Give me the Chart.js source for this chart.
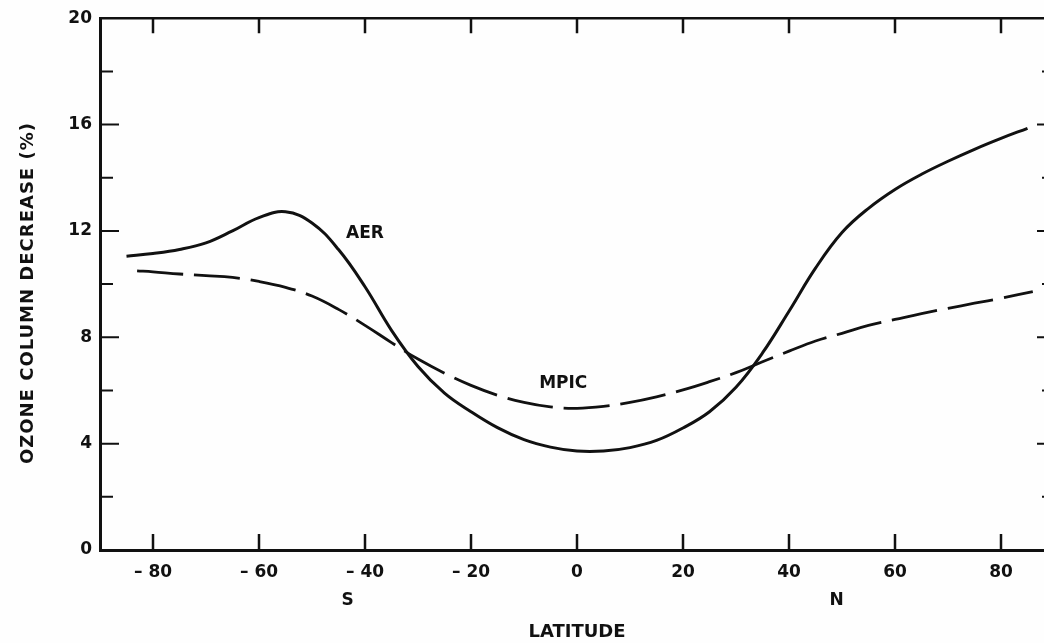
<!DOCTYPE html>
<html>
<head>
<meta charset="utf-8">
<script src="https://cdn.jsdelivr.net/npm/chart.js@4.4.1/dist/chart.umd.min.js"></script>
<style>
  html, body { margin: 0; padding: 0; background: #fefefe; overflow: hidden; }
  #wrap { width: 1044px; height: 643px; overflow: hidden; position: relative; }
  canvas { position: absolute; left: 0; top: 0; }
</style>
</head>
<body>
<div id="wrap"><canvas id="c" width="1060" height="643"></canvas></div>
<script>
// ---- data ----
const aerLat = [-85,-80,-75,-70,-65,-60,-55,-50,-45,-40,-35,-30,-25,-20,-15,-10,-5,0,5,10,15,20,25,30,35,40,45,50,55,60,65,70,75,80,85];
const aerVal = [11.05,11.15,11.3,11.55,12.0,12.5,12.72,12.3,11.3,9.9,8.26,6.9,5.9,5.2,4.6,4.15,3.87,3.72,3.72,3.85,4.12,4.59,5.2,6.12,7.41,8.98,10.6,11.94,12.85,13.56,14.13,14.62,15.07,15.48,15.86];

const mpicLat = [-83,-80,-75,-70,-65,-60,-55,-50,-45,-40,-35,-30,-25,-20,-15,-10,-5,0,5,10,15,20,25,30,35,40,45,50,55,60,65,70,75,80,86];
const mpicVal = [10.5,10.46,10.38,10.32,10.25,10.1,9.88,9.55,9.05,8.45,7.8,7.18,6.65,6.19,5.82,5.55,5.38,5.33,5.4,5.55,5.76,6.02,6.33,6.67,7.08,7.48,7.86,8.15,8.45,8.67,8.89,9.09,9.28,9.47,9.72];

const xTickValues = [-80,-60,-40,-20,0,20,40,60,80];
const xTickLabels = ['– 80','– 60','– 40','– 20','0','20','40','60','80'];
const yTickValues = [0,2,4,6,8,10,12,14,16,18,20];
const yTickLabels = ['0','','4','','8','','12','','16','','20'];
const seriesNames = ['AER','MPIC'];
const yTitle = 'OZONE COLUMN DECREASE (%)';
const xTitle = 'LATITUDE';
const hemiLabels = ['S','N'];

// ---- drawing ----
const INK = '#111111';
const FONT = 'DejaVu Sans';

const framePlugin = {
  id: 'frame',
  afterDatasetsDraw(chart, args, opts) {
    const ctx = chart.ctx;
    const xs = chart.scales.x, ys = chart.scales.y;
    const a = chart.chartArea;
    ctx.save();
    ctx.strokeStyle = INK;
    ctx.lineCap = 'butt';
    // frame
    ctx.lineWidth = 3;
    ctx.beginPath();
    ctx.moveTo(a.left + 0.5, a.top); ctx.lineTo(a.left + 0.5, a.bottom + 1.5);
    ctx.moveTo(a.left - 1, a.bottom + 0.5); ctx.lineTo(a.right, a.bottom + 0.5);
    ctx.stroke();
    ctx.lineWidth = 2.5;
    ctx.beginPath();
    ctx.moveTo(a.left - 1, a.top); ctx.lineTo(a.right, a.top);
    ctx.moveTo(a.right, a.top); ctx.lineTo(a.right, a.bottom);
    ctx.stroke();
    // x ticks (inside, bottom and top)
    ctx.lineWidth = 2.5;
    ctx.beginPath();
    xTickValues.forEach(v => {
      const px = xs.getPixelForValue(v);
      ctx.moveTo(px, a.bottom); ctx.lineTo(px, a.bottom - 16);
      ctx.moveTo(px, a.top); ctx.lineTo(px, a.top + 15);
    });
    ctx.stroke();
    // y ticks (inside, left and right)
    ctx.lineWidth = 2;
    ctx.beginPath();
    yTickValues.forEach((v, i) => {
      if (v === 0 || v === 20) return;
      const py = ys.getPixelForValue(v);
      const major = yTickLabels[i] !== '';
      ctx.moveTo(a.left, py); ctx.lineTo(a.left + (major ? 19 : 13), py);
      ctx.moveTo(a.right, py); ctx.lineTo(a.right - (major ? 17 : 12), py);
    });
    ctx.stroke();

    ctx.fillStyle = INK;
    // series annotations
    ctx.font = 'bold 17px "' + FONT + '"';
    ctx.textAlign = 'center';
    ctx.textBaseline = 'middle';
    opts.notes.forEach((n, i) => {
      ctx.fillText(seriesNames[i], xs.getPixelForValue(n[0]), ys.getPixelForValue(n[1]));
    });
    // hemisphere labels
    opts.hemi.forEach((h, i) => {
      ctx.fillText(hemiLabels[i], xs.getPixelForValue(h), opts.hemiY);
    });
    // y title
    ctx.save();
    ctx.font = 'bold 18px "' + FONT + '"';
    try { ctx.letterSpacing = '1px'; } catch (e) {}
    ctx.translate(28, (ys.getPixelForValue(10) + 9));
    ctx.rotate(-Math.PI / 2);
    ctx.fillText(yTitle, 0, 0);
    ctx.restore();
    ctx.restore();
  }
};

const tickFont = { family: FONT, weight: 'bold', size: 17 };

new Chart(document.getElementById('c'), {
  type: 'line',
  data: {
    datasets: [
      {
        label: seriesNames[0],
        data: aerLat.map((x, i) => ({ x: x, y: aerVal[i] })),
        borderColor: INK,
        borderWidth: 3,
        pointRadius: 0,
        tension: 0.4,
        fill: false
      },
      {
        label: seriesNames[1],
        data: mpicLat.map((x, i) => ({ x: x, y: mpicVal[i] })),
        borderColor: INK,
        borderWidth: 2.8,
        borderDash: [46, 11],
        pointRadius: 0,
        tension: 0.4,
        fill: false
      }
    ]
  },
  options: {
    responsive: false,
    animation: false,
    events: [],
    layout: { padding: { top: 18, right: 6, left: 0, bottom: 0 } },
    plugins: {
      legend: { display: false },
      tooltip: { enabled: false },
      frame: { notes: [[-40, 11.9], [-2.6, 6.25]], hemi: [-43.3, 49], hemiY: 601 }
    },
    scales: {
      x: {
        type: 'linear',
        min: -90, max: 90,
        grid: { display: false, drawTicks: false },
        border: { display: false },
        afterBuildTicks: s => { s.ticks = xTickValues.map(v => ({ value: v })); },
        afterFit: s => { s.height = 93; },
        ticks: {
          autoSkip: false, maxRotation: 0, minRotation: 0,
          padding: 12, color: INK, font: tickFont,
          callback: (v, i) => xTickLabels[i]
        },
        title: {
          display: true, text: xTitle, color: INK,
          font: { family: FONT, weight: 'bold', size: 18 },
          padding: { top: 0, bottom: 0 }
        }
      },
      y: {
        type: 'linear',
        min: 0, max: 20,
        grid: { display: false, drawTicks: false },
        border: { display: false },
        afterBuildTicks: s => { s.ticks = yTickValues.map(v => ({ value: v })); },
        afterFit: s => { s.width = 100; },
        ticks: {
          autoSkip: false, padding: 8, color: INK, font: tickFont,
          callback: (v, i) => yTickLabels[i]
        }
      }
    }
  },
  plugins: [framePlugin]
});
</script>
</body>
</html>
